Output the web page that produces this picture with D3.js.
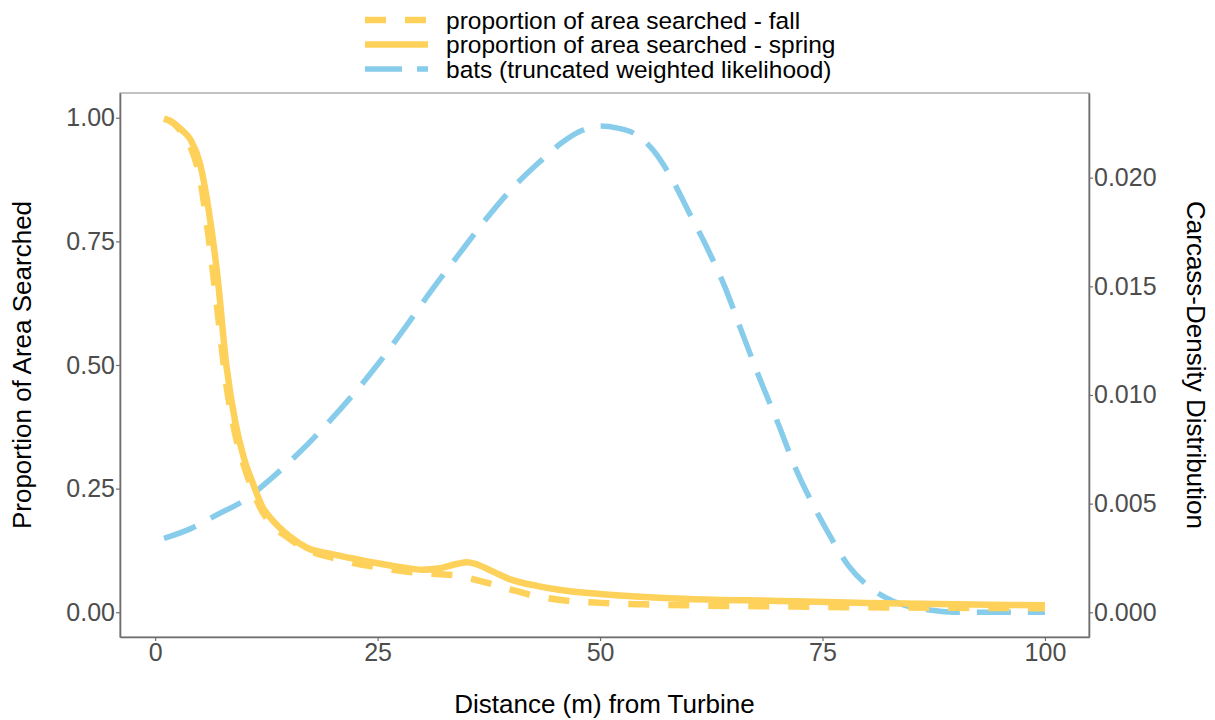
<!DOCTYPE html>
<html>
<head>
<meta charset="utf-8">
<script src="https://cdn.jsdelivr.net/npm/d3@7"></script>
<style>
  html, body { margin: 0; padding: 0; background: #fff; }
  svg { display: block; font-family: Arial, "Liberation Sans", sans-serif; }
</style>
</head>
<body>
<svg id="chart" width="1215" height="720"></svg>
<script>
// Distance from turbine (m) and the curves sampled along it
const springDist = [1,2,3,4,5,6,7,8,9,10,11,12,13,15,17,20,23,25,28,30,32,34,35,36,38,40,43,46,50,55,60,70,80,90,100];
const springProp = [0.998,0.99,0.975,0.955,0.91,0.815,0.68,0.50,0.385,0.31,0.26,0.215,0.19,0.155,0.131,0.117,0.106,0.099,0.09,0.086,0.089,0.098,0.101,0.098,0.082,0.066,0.053,0.044,0.037,0.031,0.027,0.023,0.019,0.016,0.014];

const fallDist = [1,2,3,4,5,6,7,8,9,10,11,12,13,15,17,20,23,25,28,30,32,34,37,40,42,44,46,50,55,60,70,80,90,100];
const fallProp = [0.998,0.99,0.97,0.94,0.88,0.76,0.61,0.46,0.36,0.295,0.245,0.205,0.18,0.15,0.127,0.11,0.097,0.091,0.083,0.079,0.077,0.074,0.061,0.046,0.036,0.029,0.024,0.019,0.016,0.014,0.012,0.010,0.009,0.008];

const batDist = [1,4,7,10,13,16,19,22,25,28,31,34,37,40,43,46,48,50,52,54,56,58,60,62,64,66,68,70,72,74,76,78,80,82,84,86,88,90,95,100];
const batDensity = [0.00340,0.00385,0.00450,0.00515,0.00614,0.00727,0.00853,0.00990,0.01140,0.01305,0.01478,0.01640,0.01800,0.01945,0.02065,0.02170,0.02218,0.02238,0.02228,0.02200,0.02125,0.02000,0.01840,0.01680,0.01500,0.01283,0.01070,0.00870,0.00660,0.00490,0.00340,0.00210,0.00125,0.00070,0.00035,0.00017,0.00006,0,0,0];

const xTicks = [0, 25, 50, 75, 100];
const leftTicks = [0, 0.25, 0.5, 0.75, 1.0];
const rightTicks = [0, 0.005, 0.010, 0.015, 0.020];

const legendLabels = [
  "proportion of area searched - fall",
  "proportion of area searched - spring",
  "bats (truncated weighted likelihood)"
];

const yellow = "#FDD15A";
const blue = "#87CCEA";
const tickGrey = "#4D4D4D";

const svg = d3.select("#chart");
const panel = { left: 120, right: 1089, top: 93, bottom: 637 };

// Scales: 5% padding around the data ranges
const x = d3.scaleLinear().domain([1 - 0.05 * 99, 100 + 0.05 * 99]).range([panel.left, panel.right]);
const yLeft = d3.scaleLinear().domain([-0.05, 1.05]).range([panel.bottom, panel.top]);
const rightFactor = 0.02276; // secondary axis is a rescaling of the primary
const yRight = d3.scaleLinear().domain([-0.05 * rightFactor, 1.05 * rightFactor]).range([panel.bottom, panel.top]);

svg.append("defs").append("clipPath").attr("id", "panelClip")
  .append("rect")
  .attr("x", panel.left).attr("y", panel.top)
  .attr("width", panel.right - panel.left).attr("height", panel.bottom - panel.top);

const plot = svg.append("g").attr("clip-path", "url(#panelClip)");

const lineLeft = d3.line().x(d => x(d[0])).y(d => yLeft(d[1])).curve(d3.curveMonotoneX);
const lineRight = d3.line().x(d => x(d[0])).y(d => yRight(d[1])).curve(d3.curveMonotoneX);

plot.append("path")
  .datum(d3.zip(batDist, batDensity))
  .attr("d", lineRight)
  .attr("fill", "none").attr("stroke", blue).attr("stroke-width", 5.5)
  .attr("stroke-dasharray", "34,17");

plot.append("path")
  .datum(d3.zip(fallDist, fallProp))
  .attr("d", lineLeft)
  .attr("fill", "none").attr("stroke", yellow).attr("stroke-width", 6.5)
  .attr("stroke-dasharray", "21,19");

plot.append("path")
  .datum(d3.zip(springDist, springProp))
  .attr("d", lineLeft)
  .attr("fill", "none").attr("stroke", yellow).attr("stroke-width", 6.5)
  .attr("stroke-linejoin", "round");

// Panel frame
svg.append("rect")
  .attr("x", panel.left).attr("y", panel.top)
  .attr("width", panel.right - panel.left).attr("height", panel.bottom - panel.top)
  .attr("fill", "none").attr("stroke", "#9a9a9a").attr("stroke-width", 1.2);

function styleAxis(g) {
  g.select(".domain").attr("stroke", "#6e6e6e").attr("stroke-width", 1.6);
  g.selectAll(".tick line").attr("stroke", "#6e6e6e").attr("stroke-width", 1.2);
  g.selectAll(".tick text").attr("fill", tickGrey).attr("font-size", 25)
    .attr("font-family", "Arial, 'Liberation Sans', sans-serif");
}

const fmt2 = d3.format(".2f");
const fmt3 = d3.format(".3f");

svg.append("g")
  .attr("transform", `translate(0,${panel.bottom})`)
  .call(d3.axisBottom(x).tickValues(xTicks).tickSize(4).tickPadding(2).tickSizeOuter(0))
  .call(styleAxis);

svg.append("g")
  .attr("transform", `translate(${panel.left},0)`)
  .call(d3.axisLeft(yLeft).tickValues(leftTicks).tickFormat(fmt2).tickSize(4).tickPadding(1).tickSizeOuter(0))
  .call(styleAxis);

svg.append("g")
  .attr("transform", `translate(${panel.right},0)`)
  .call(d3.axisRight(yRight).tickValues(rightTicks).tickFormat(fmt3).tickSize(4).tickPadding(1).tickSizeOuter(0))
  .call(styleAxis);

// Axis titles
svg.append("text")
  .attr("x", (panel.left + panel.right) / 2).attr("y", 713)
  .attr("text-anchor", "middle").attr("font-size", 26).attr("fill", "#000")
  .text("Distance (m) from Turbine");

svg.append("text")
  .attr("transform", `translate(31,${(panel.top + panel.bottom) / 2}) rotate(-90)`)
  .attr("text-anchor", "middle").attr("font-size", 26).attr("fill", "#000")
  .text("Proportion of Area Searched");

svg.append("text")
  .attr("transform", `translate(1187,${(panel.top + panel.bottom) / 2}) rotate(90)`)
  .attr("text-anchor", "middle").attr("font-size", 26).attr("fill", "#000")
  .text("Carcass-Density Distribution");

// Legend
const legendStyles = [
  { color: yellow, width: 6.5, dash: "21,19" },
  { color: yellow, width: 6.5, dash: null },
  { color: blue, width: 5.5, dash: "37,15" }
];
const legend = svg.append("g");
legendLabels.forEach((label, i) => {
  const cy = 20 + i * 24.5;
  const st = legendStyles[i];
  const ln = legend.append("line")
    .attr("x1", 365).attr("x2", 428).attr("y1", cy).attr("y2", cy)
    .attr("stroke", st.color).attr("stroke-width", st.width);
  if (st.dash) ln.attr("stroke-dasharray", st.dash);
  legend.append("text")
    .attr("x", 446).attr("y", cy).attr("dy", "0.35em")
    .attr("font-size", 24.5).attr("fill", "#000")
    .text(label);
});
</script>
</body>
</html>
